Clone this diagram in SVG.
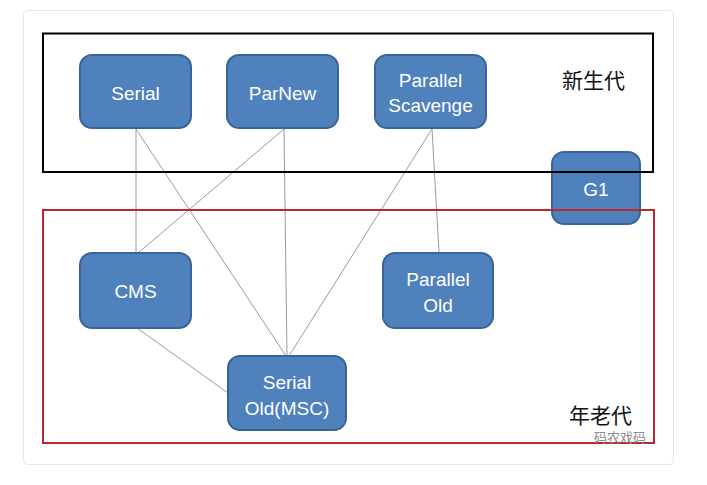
<svg xmlns="http://www.w3.org/2000/svg" width="707" height="485" viewBox="0 0 707 485">
<style>
.node rect{fill:#4F81BD;stroke:#3A6496;stroke-width:2}
.node text{fill:#ffffff;font-family:"Liberation Sans",Arial,sans-serif;font-size:19px;text-anchor:middle}
.edge line{stroke:#9a9a9a;stroke-width:1}
.lbl{font-family:"Noto Sans CJK SC","Noto Sans",sans-serif;fill:#111;font-size:21px}
</style>
<rect x="0" y="0" width="707" height="485" fill="#ffffff"/>
<rect x="23.5" y="10.5" width="650" height="454" rx="4" fill="#ffffff" stroke="#e6e6e6" stroke-width="1"/>
<g id="connectors" class="edge">
<line x1="136" y1="129" x2="136" y2="252"/>
<line x1="136" y1="129" x2="286" y2="356"/>
<line x1="284" y1="129" x2="138" y2="253"/>
<line x1="284" y1="129" x2="287" y2="356"/>
<line x1="432" y1="129" x2="289" y2="356"/>
<line x1="432" y1="129" x2="439" y2="252"/>
<line x1="137" y1="328" x2="228" y2="393"/>
</g>
<g id="serial" class="node"><rect x="80" y="55" width="111" height="73" rx="12"/><text x="135.5" y="100">Serial</text></g>
<g id="parnew" class="node"><rect x="227" y="55" width="111" height="73" rx="12"/><text x="282.5" y="100">ParNew</text></g>
<g id="parallel-scavenge" class="node"><rect x="375" y="55" width="111" height="73" rx="12"/><text x="430.5" y="87">Parallel</text><text x="430.5" y="112">Scavenge</text></g>
<g id="g1" class="node"><rect x="552" y="152" width="88" height="72" rx="12"/><text x="596" y="196">G1</text></g>
<g id="cms" class="node"><rect x="80" y="253" width="111" height="75" rx="12"/><text x="135.5" y="298">CMS</text></g>
<g id="parallel-old" class="node"><rect x="383" y="253" width="110" height="75" rx="12"/><text x="438" y="286">Parallel</text><text x="438" y="312">Old</text></g>
<g id="serial-old" class="node"><rect x="228" y="356" width="118" height="74" rx="12"/><text x="287" y="389">Serial</text><text x="287" y="415">Old(MSC)</text></g>
<g id="young-gen">
<rect x="43" y="33.5" width="610" height="138.5" fill="none" stroke="#000000" stroke-width="2"/>
<text class="lbl" x="562" y="88">新生代</text>
</g>
<g id="old-gen">
<rect x="43" y="210" width="611" height="233" fill="none" stroke="#B8282C" stroke-width="2"/>
<text class="lbl" x="569" y="423" font-size="22">年老代</text>
</g>
<text x="594" y="442" font-family="Noto Sans CJK SC,sans-serif" font-size="13" fill="#8a8a8a">码农戏码</text>
</svg>
